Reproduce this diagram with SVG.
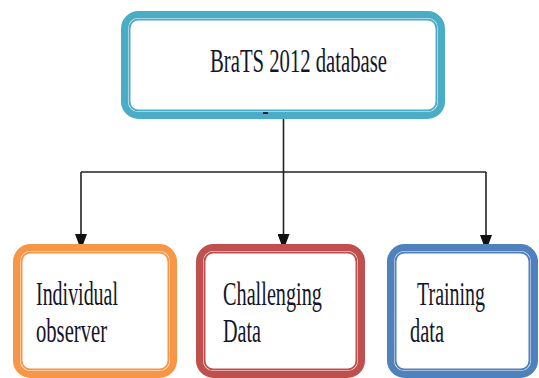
<svg xmlns="http://www.w3.org/2000/svg" width="539" height="378" viewBox="0 0 539 378">
<defs>
<marker id="ah" markerUnits="userSpaceOnUse" markerWidth="12" markerHeight="16" viewBox="0 0 12 16" refX="6" refY="16">
<path d="M0,0 L12,0 L6,16 Z" fill="#111"/>
</marker>
</defs>
<style>
.outer{fill:#fff;stroke-width:7}
.inner{fill:none;stroke-width:2}
.lbl{font-family:"Liberation Serif","Times New Roman",serif;font-size:33px;fill:#15152a}
.conn{fill:none;stroke:#222;stroke-width:1.6}
</style>
<rect width="539" height="378" fill="#fff"/>
<g id="connectors">
<path class="conn" d="M283.5,117 V172"/>
<path class="conn" d="M81,172 H486"/>
<path class="conn" d="M81,172 V250" marker-end="url(#ah)"/>
<path class="conn" d="M283.5,172 V250" marker-end="url(#ah)"/>
<path class="conn" d="M486,172 V251" marker-end="url(#ah)"/>
</g>
<g id="brats">
<rect class="outer" x="124.5" y="14.5" width="317" height="101" rx="14" stroke="#4BACC6"/>
<rect class="inner" x="129.5" y="19.5" width="307" height="91" rx="9" stroke="#4BACC6"/>
<rect x="263" y="112" width="5" height="2" fill="#222"/>
<text class="lbl" x="210" y="72" textLength="177" lengthAdjust="spacingAndGlyphs">BraTS 2012 database</text>
</g>
<g id="individual">
<rect class="outer" x="16.5" y="247.5" width="157" height="127" rx="14" stroke="#F79646"/>
<rect class="inner" x="21.5" y="252.5" width="147" height="117" rx="9" stroke="#F79646"/>
<text class="lbl" x="36" y="305" textLength="82" lengthAdjust="spacingAndGlyphs">Individual</text>
<text class="lbl" x="36" y="342" textLength="71" lengthAdjust="spacingAndGlyphs">observer</text>
</g>
<g id="challenging">
<rect class="outer" x="199.5" y="247.5" width="162" height="127" rx="14" stroke="#C0504D"/>
<rect class="inner" x="204.5" y="252.5" width="152" height="117" rx="9" stroke="#C0504D"/>
<text class="lbl" x="223" y="305" textLength="99" lengthAdjust="spacingAndGlyphs">Challenging</text>
<text class="lbl" x="223" y="342" textLength="38" lengthAdjust="spacingAndGlyphs">Data</text>
</g>
<g id="training">
<rect class="outer" x="390.5" y="247.5" width="144" height="127" rx="14" stroke="#4F81BD"/>
<rect class="inner" x="395.5" y="252.5" width="134" height="117" rx="9" stroke="#4F81BD"/>
<text class="lbl" x="417" y="305" textLength="68" lengthAdjust="spacingAndGlyphs">Training</text>
<text class="lbl" x="410" y="342" textLength="34" lengthAdjust="spacingAndGlyphs">data</text>
</g>
</svg>
